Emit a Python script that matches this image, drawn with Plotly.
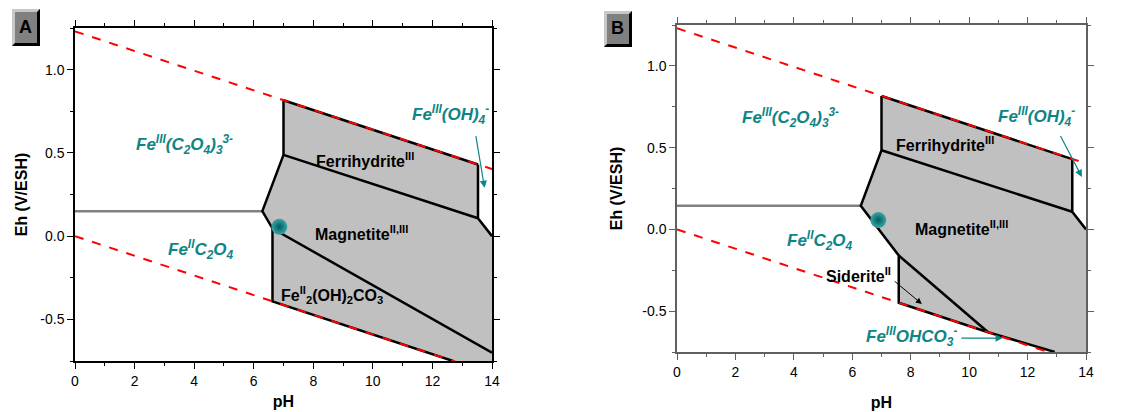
import plotly.graph_objects as go

W, H = 1131, 412

# ---------------- data ----------------
ph_water = [0, 14]
eh_o2 = [1.23, 0.403]          # upper water stability line
eh_h2 = [0.0, -0.827]          # lower water stability line

# Panel A : grey stability field (pH, Eh)
poly_a_ph = [7.0, 13.53, 13.53, 14.0, 14.0, 12.69, 6.63, 6.63, 6.29, 7.0]
poly_a_eh = [0.816, 0.430, 0.107, 0.0, -0.75, -0.75, -0.392, 0.046, 0.15, 0.488]
# boundaries A
bnd_a = [
    ([7.0, 13.53], [0.816, 0.430]),
    ([7.0, 7.0, 6.29, 6.63, 6.63, 12.69], [0.816, 0.488, 0.15, 0.046, -0.392, -0.75]),
    ([13.53, 13.53, 14.0], [0.430, 0.107, 0.0]),
    ([7.0, 13.53], [0.488, 0.107]),
    ([6.63, 14.0], [0.046, -0.70]),
]
hline_a_ph = [0, 6.29]
hline_a_eh = [0.15, 0.15]
point_a = (6.86, 0.056)

# Panel B
poly_b_ph = [7.0, 13.53, 13.53, 14.0, 14.0, 12.93, 10.65, 7.59, 7.59, 6.29, 7.0]
poly_b_eh = [0.816, 0.430, 0.108, 0.0, -0.75, -0.75, -0.629, -0.449, -0.16, 0.144, 0.484]
bnd_b = [
    ([7.0, 13.53], [0.816, 0.430]),
    ([13.53, 13.53, 14.0], [0.430, 0.108, 0.0]),
    ([7.0, 7.0, 6.29, 7.59, 7.59, 10.65, 12.93], [0.816, 0.484, 0.144, -0.16, -0.449, -0.629, -0.75]),
    ([7.0, 13.53], [0.484, 0.108]),
    ([7.59, 10.65], [-0.16, -0.629]),
]
hline_b_ph = [0, 6.29]
hline_b_eh = [0.144, 0.144]
point_b = (6.89, 0.057)

x_ticks = [0, 2, 4, 6, 8, 10, 12, 14]
y_ticks = [-0.5, 0.0, 0.5, 1.0]
y_ticktext = ["-0.5", "0.0", "0.5", "1.0"]

TEAL = "#0e8585"
FONT = "Liberation Sans, Arial, sans-serif"

fig = go.Figure()

def add_panel(xa, ya, px, pe, bnds, hph, heh, pt):
    fig.add_trace(go.Scatter(x=px + [px[0]], y=pe + [pe[0]], fill="toself",
                             fillcolor="#c0c0c0", line=dict(width=0), mode="lines",
                             xaxis=xa, yaxis=ya, hoverinfo="skip"))
    fig.add_trace(go.Scatter(x=hph, y=heh, mode="lines", line=dict(color="#808080", width=2.5),
                             xaxis=xa, yaxis=ya))
    for bx, by in bnds:
        fig.add_trace(go.Scatter(x=bx, y=by, mode="lines", line=dict(color="black", width=2.5),
                                 xaxis=xa, yaxis=ya))
    for ey in (eh_o2, eh_h2):
        fig.add_trace(go.Scatter(x=ph_water, y=ey, mode="lines",
                                 line=dict(color="#ff0000", width=2, dash="dash"),
                                 xaxis=xa, yaxis=ya))
    fig.add_trace(go.Scatter(x=[pt[0]], y=[pt[1]], mode="markers",
                             marker=dict(size=16, color="#3aa6a6",
                                         gradient=dict(type="radial", color="#005c5c"),
                                         line=dict(width=0)),
                             xaxis=xa, yaxis=ya))

add_panel("x", "y", poly_a_ph, poly_a_eh, bnd_a, hline_a_ph, hline_a_eh, point_a)
add_panel("x2", "y2", poly_b_ph, poly_b_eh, bnd_b, hline_b_ph, hline_b_eh, point_b)

def axis_common(color, dom, rng, tv, tt, minor_dtick, title, standoff):
    return dict(domain=dom, range=rng, tickvals=tv, ticktext=tt, automargin=False,
                ticks="outside", ticklen=6, tickwidth=1.3, tickcolor=color,
                showline=True, linecolor=color, linewidth=1.5, mirror="ticks",
                showgrid=False, zeroline=False,
                minor=dict(dtick=minor_dtick, ticks="outside", ticklen=3, tickcolor=color, showgrid=False),
                tickfont=dict(family=FONT, size=14, color="black"),
                title=dict(text=title, font=dict(family=FONT, size=16, color="black"), standoff=standoff))

fx = lambda p: p / W
fy = lambda p: 1 - p / H

x_tt = [str(v) for v in x_ticks]

fig.update_layout(
    width=W, height=H, margin=dict(l=0, r=0, t=0, b=0, autoexpand=False),
    paper_bgcolor="white", plot_bgcolor="white", showlegend=False,
    xaxis=dict(**axis_common("black", [fx(75), fx(492)], [0, 14], x_ticks, x_tt, 1, "<b>pH</b>", 8), anchor="y"),
    yaxis=dict(**axis_common("black", [fy(361), fy(28)], [-0.75, 1.25], y_ticks, y_ticktext, 0.25, "<b>Eh (V/ESH)</b>", 9), anchor="x"),
    xaxis2=dict(**axis_common("#606060", [fx(677), fx(1086)], [0, 14], x_ticks, x_tt, 1, "<b>pH</b>", 18), anchor="y2"),
    yaxis2=dict(**axis_common("#606060", [fy(352), fy(25)], [-0.75, 1.25], y_ticks, y_ticktext, 0.25, "<b>Eh (V/ESH)</b>", 16), anchor="x2"),
)

def label(xa, ya, x, y, text, color="black", size=16):
    fig.add_annotation(x=x, y=y, xref=xa, yref=ya, text=text, showarrow=False,
                       font=dict(family=FONT, size=size, color=color))

def arrow(xa, ya, x0, y0, x1, y1, color, width=1.2):
    fig.add_annotation(x=x1, y=y1, ax=x0, ay=y0, xref=xa, yref=ya, axref=xa, ayref=ya,
                       text="", showarrow=True, arrowhead=2, arrowsize=1.2,
                       arrowwidth=width, arrowcolor=color)

c2o4_3 = "<b><i>Fe<sup>III</sup>(C<sub>2</sub>O<sub>4</sub>)<sub>3</sub><sup>3-</sup></i></b>"
c2o4 = "<b><i>Fe<sup>II</sup>C<sub>2</sub>O<sub>4</sub></i></b>"
oh4 = "<b><i>Fe<sup>III</sup>(OH)<sub>4</sub><sup>-</sup></i></b>"
ferri = "<b>Ferrihydrite<sup>III</sup></b>"
magn = "<b>Magnetite<sup>II,III</sup></b>"

# Panel A labels
label("x", "y", 3.66, 0.55, c2o4_3, TEAL, 17)
label("x", "y", 4.23, -0.08, c2o4, TEAL, 17)
label("x", "y", 12.6, 0.73, oh4, TEAL, 17)
label("x", "y", 9.73, 0.46, ferri)
label("x", "y", 9.63, 0.02, magn)
label("x", "y", 8.63, -0.355, "<b>Fe<sup>II</sup><sub>2</sub>(OH)<sub>2</sub>CO<sub>3</sub></b>")
arrow("x", "y", 13.45, 0.61, 13.75, 0.29, TEAL)

# Panel B labels
label("x2", "y2", 3.9, 0.685, c2o4_3, TEAL, 17)
label("x2", "y2", 4.88, -0.066, c2o4, TEAL, 17)
label("x2", "y2", 12.3, 0.69, oh4, TEAL, 17)
label("x2", "y2", 9.17, 0.52, ferri)
label("x2", "y2", 9.75, 0.008, magn)
label("x2", "y2", 6.22, -0.28, "<b>Siderite<sup>II</sup></b>")
label("x2", "y2", 8.04, -0.657, "<b><i>Fe<sup>III</sup>OHCO<sub>3</sub><sup>-</sup></i></b>", TEAL, 17)
arrow("x2", "y2", 13.1, 0.58, 13.86, 0.32, TEAL)
arrow("x2", "y2", 7.4, -0.31, 8.38, -0.456, "black", 1)
arrow("x2", "y2", 9.68, -0.665, 11.15, -0.665, TEAL)

# panel letter boxes
def letter_box(x0, y0, x1, y1, letter):
    fig.add_shape(type="rect", xref="paper", yref="paper", x0=fx(x0), x1=fx(x1), y0=fy(y1), y1=fy(y0),
                  fillcolor="#808080", line=dict(width=0))
    fig.add_shape(type="path", xref="paper", yref="paper",
                  path=f"M {fx(x0)},{fy(y1)} L {fx(x0)},{fy(y0)} L {fx(x1)},{fy(y0)} L {fx(x1-3)},{fy(y0+3)} L {fx(x0+3)},{fy(y0+3)} L {fx(x0+3)},{fy(y1-3)} Z",
                  fillcolor="#c8c8c8", line=dict(width=0))
    fig.add_shape(type="path", xref="paper", yref="paper",
                  path=f"M {fx(x1)},{fy(y0)} L {fx(x1)},{fy(y1)} L {fx(x0)},{fy(y1)} L {fx(x0+3)},{fy(y1-3)} L {fx(x1-3)},{fy(y1-3)} L {fx(x1-3)},{fy(y0+3)} Z",
                  fillcolor="black", line=dict(width=0))
    fig.add_annotation(x=fx((x0 + x1) / 2 - 1), y=fy((y0 + y1) / 2 - 1), xref="paper", yref="paper",
                       xanchor="center", yanchor="middle",
                       text=f"<b>{letter}</b>", showarrow=False,
                       font=dict(family=FONT, size=18, color="black"))

letter_box(12, 9, 40, 46, "A")
letter_box(604, 11, 632, 47, "B")

fig.write_html("out.html", config={"displayModeBar": False},
               post_script="document.body.style.margin='0';document.body.style.overflow='hidden';")
